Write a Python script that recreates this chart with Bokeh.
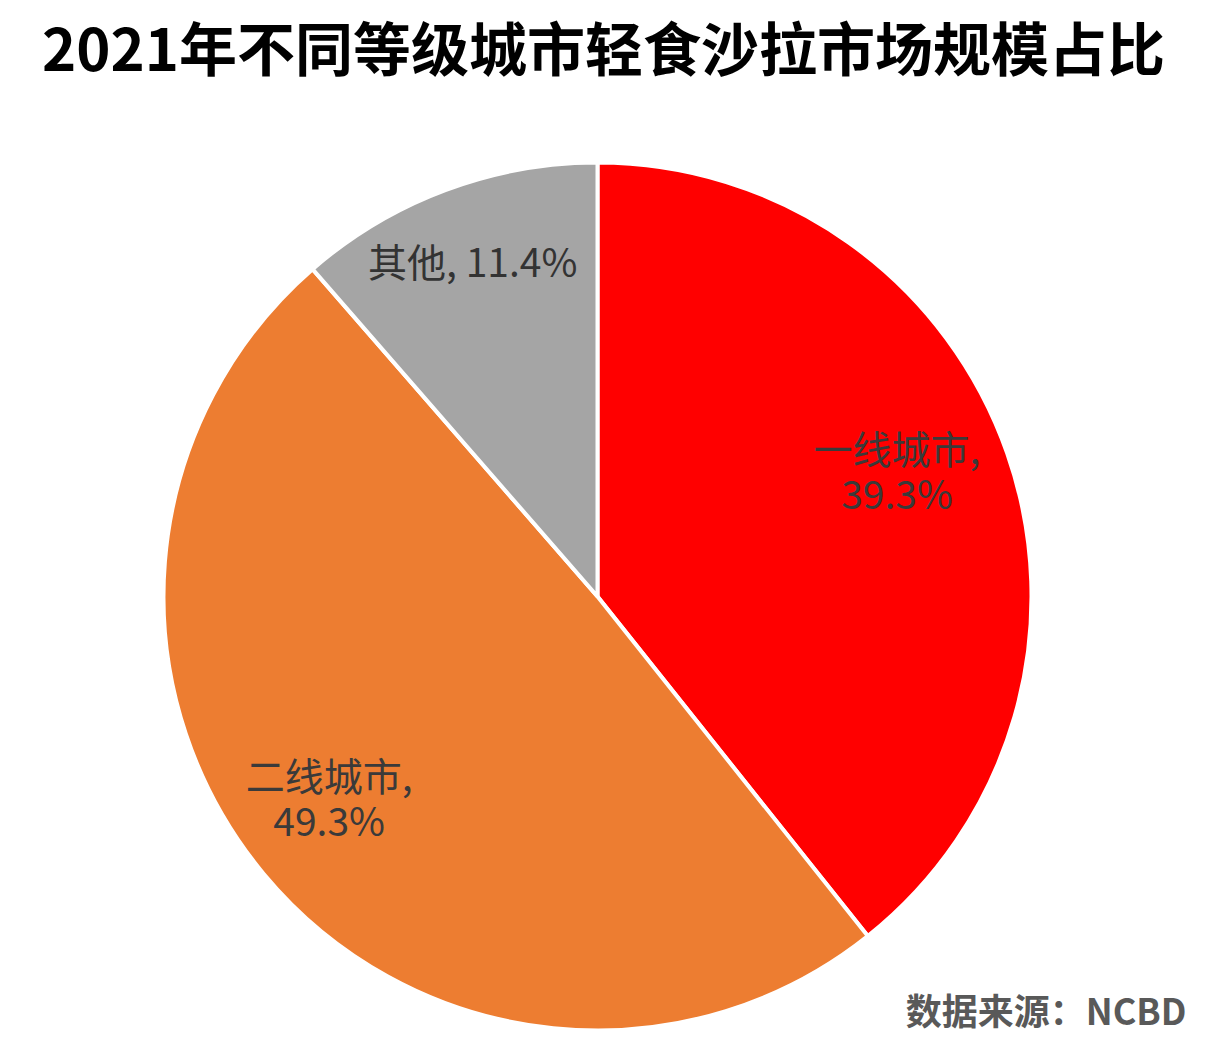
import numpy as np
from bokeh.plotting import figure
from bokeh.models import Range1d, ColumnDataSource
from bokeh.core.properties import value
from bokeh.embed import file_html
from bokeh.resources import INLINE

title = "2021年不同等级城市轻食沙拉市场规模占比"
categories = ["一线城市", "二线城市", "其他"]
shares = [39.3, 49.3, 11.4]
colors = ["#FF0000", "#ED7D31", "#A5A5A5"]
source_note = "数据来源：NCBD"

W, H = 1206, 1048
cx, cy, R = 597, H - 596, 434

vals = np.array(shares)
frac = vals / vals.sum()
cum = np.concatenate([[0], np.cumsum(frac)])
start_deg = 90 - cum[:-1] * 360
end_deg = 90 - cum[1:] * 360
start = np.deg2rad(start_deg)
end = np.deg2rad(end_deg)

src = ColumnDataSource(dict(start=start, end=end, color=colors))

p = figure(width=W, height=H, output_backend="svg", toolbar_location=None,
           x_range=Range1d(0, W), y_range=Range1d(0, H),
           min_border=0, outline_line_color=None, background_fill_color="white",
           border_fill_color="white")
p.axis.visible = False
p.grid.visible = False

p.wedge(x=cx, y=cy, radius=R, start_angle="start", end_angle="end",
        direction="clock", fill_color="color", line_color="white",
        line_width=4, source=src)

font = value("Noto Sans CJK SC")
mid = np.deg2rad((start_deg + end_deg) / 2)
lab_r = [0.75, 0.77, 0.82]
lab_dang = [3.8, -3.2, 0.0]
fs = "39px"
for i, cat in enumerate(categories):
    a = mid[i] + np.deg2rad(lab_dang[i])
    lx = cx + R * lab_r[i] * np.cos(a)
    ly = cy + R * lab_r[i] * np.sin(a)
    pct = f"{shares[i]:.1f}%"
    if i == 2:
        p.text(x=[lx], y=[ly + 3], text=[f"{cat}, {pct}"], text_font=font,
               text_font_size=fs, text_color="#333333",
               text_align="center", text_baseline="middle")
    else:
        p.text(x=[lx], y=[ly + 22], text=[f"{cat},"], text_font=font,
               text_font_size=fs, text_color="#3a3a3a",
               text_align="center", text_baseline="middle")
        p.text(x=[lx], y=[ly - 23], text=[pct], text_font=font,
               text_font_size=fs, text_color="#3a3a3a",
               text_align="center", text_baseline="middle")

p.text(x=[W / 2], y=[H - 45], text=[title], text_font=font,
       text_font_size="58px", text_font_style="bold", text_color="#000000",
       text_align="center", text_baseline="middle")

p.text(x=[1186], y=[H - 1008], text=[source_note], text_font=font,
       text_font_size="36px", text_font_style="bold", text_color="#595959",
       text_align="right", text_baseline="middle")

open("out.html", "w").write(file_html(p, INLINE))
